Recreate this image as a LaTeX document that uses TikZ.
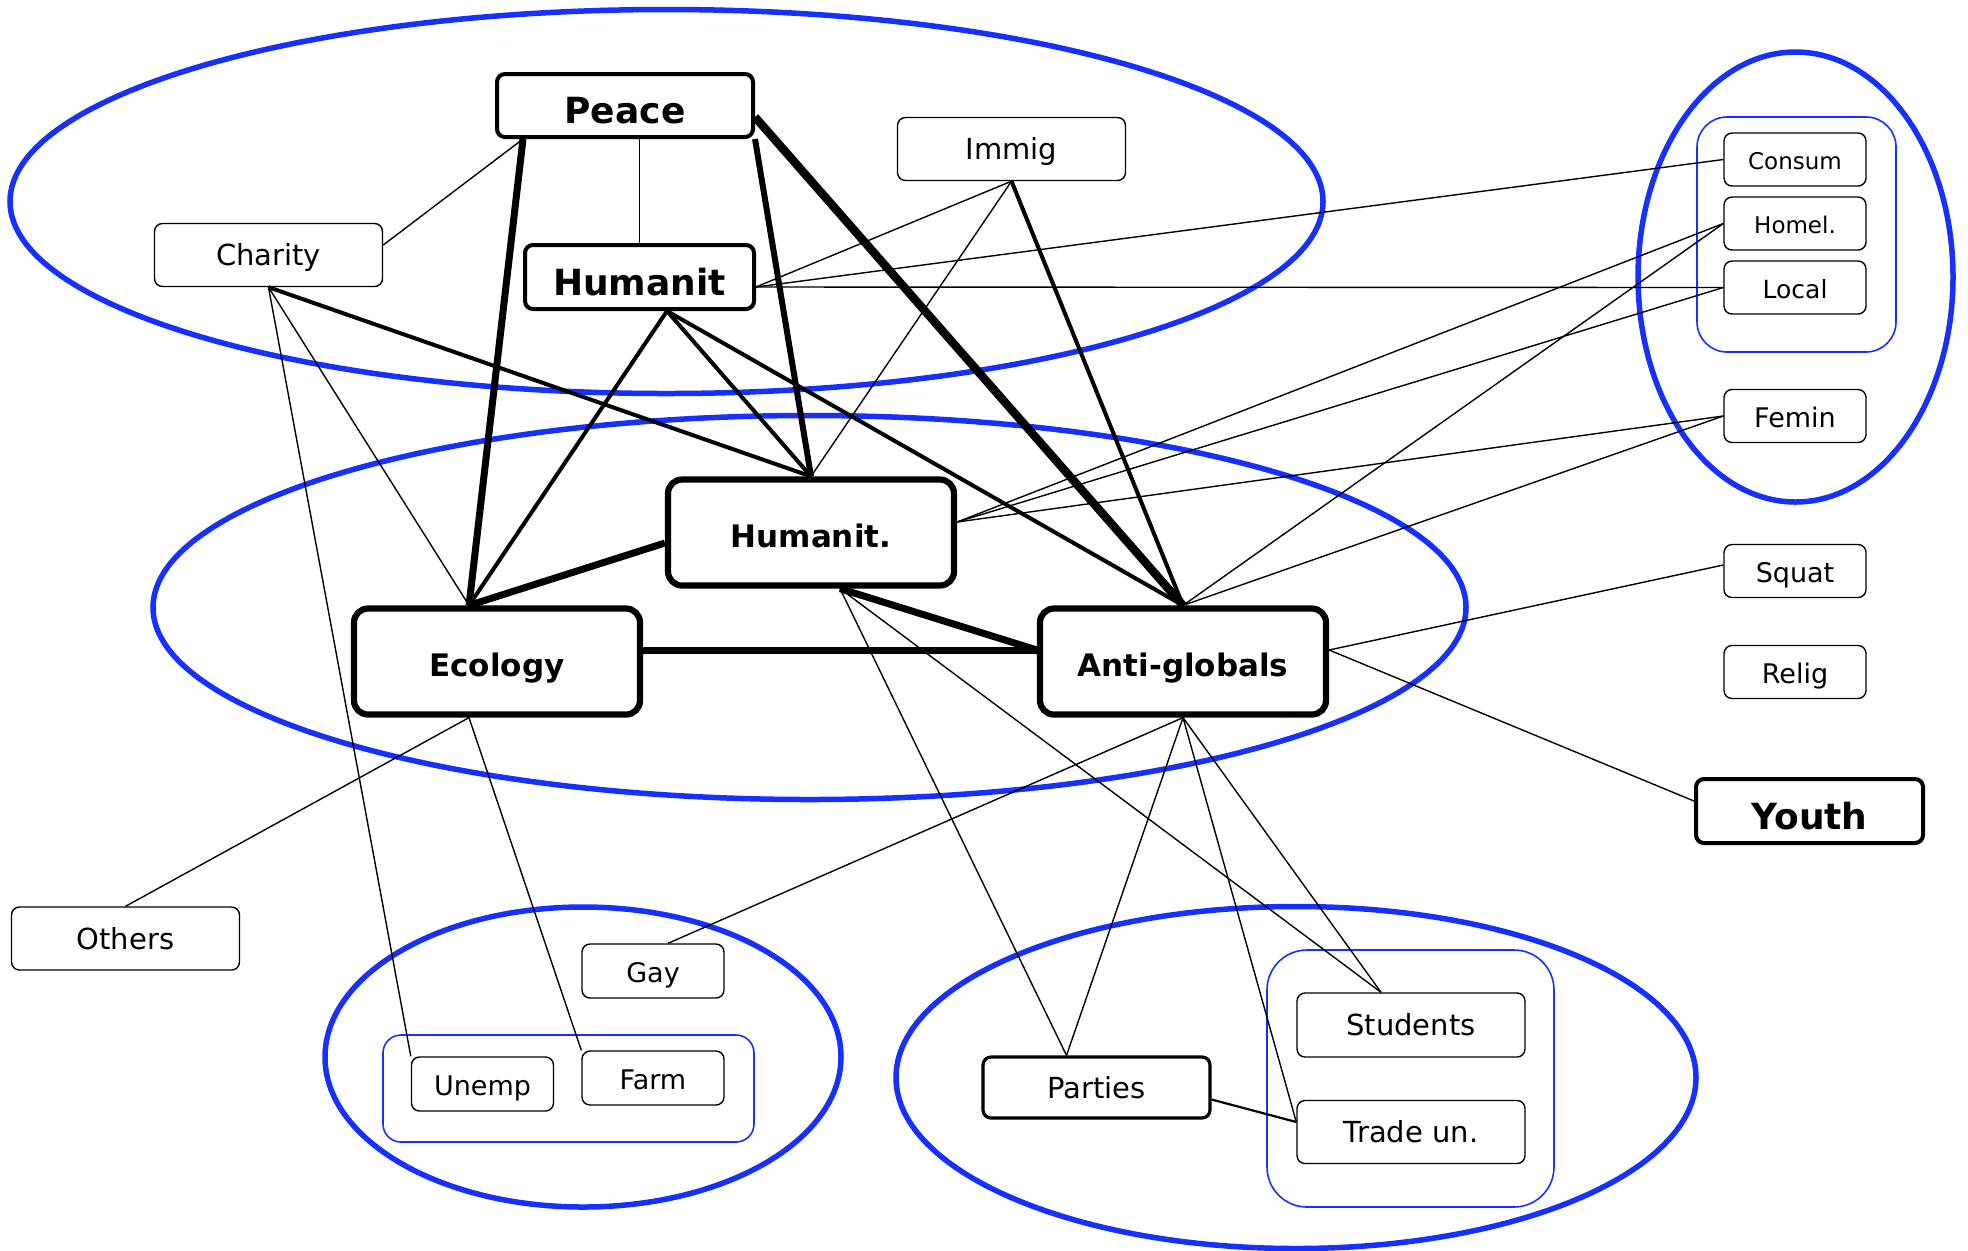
\documentclass[tikz,border=0pt]{standalone}
\usepackage{fontspec}
\setmainfont{DejaVu Sans}
\definecolor{groupblue}{RGB}{22,48,255}

\begin{document}
\begin{tikzpicture}[x=0.5pt, y=-0.5pt,
  every node/.style = {shape=rectangle, rounded corners=4pt,
    draw, fill=white, align=center, inner sep=0pt, line width=0.7pt,
    text depth=0pt},
  plain/.style = {minimum width=114pt, minimum height=31.5pt,
    font=\fontsize{14.5}{16}\selectfont, text height=10.6pt},
  small/.style = {minimum width=71pt, minimum height=26.5pt,
    font=\fontsize{13.5}{15}\selectfont, text height=11.9pt},
  major/.style = {line width=2pt, minimum width=114.5pt, minimum height=32pt,
    font=\fontsize{18}{20}\selectfont\bfseries, text height=18pt},
  hub/.style = {line width=3.1pt, rounded corners=7pt,
    minimum width=143pt, minimum height=53pt,
    font=\fontsize{15.5}{17}\selectfont\bfseries, text height=14.7pt},
  group/.style = {draw=groupblue, line width=2.75pt},
  subgroup/.style = {draw=groupblue, line width=0.8pt, rounded corners=15pt},
  tie/.style = {line width=0.7pt},
  tiemid/.style = {line width=2pt},
  tieheavy/.style = {line width=3.5pt},
  tiemax/.style = {line width=4.2pt}]

  \useasboundingbox (0,0) rectangle (1968,1250);

  % clusters
  \draw[group] (666.5,201.5) ellipse [x radius=328.25pt, y radius=96pt];
  \draw[group] (809.5,607.5) ellipse [x radius=328.25pt, y radius=96pt];
  \draw[group] (1795.5,277) ellipse [x radius=78.75pt, y radius=112.5pt];
  \draw[group] (583,1057) ellipse [x radius=129pt, y radius=75pt];
  \draw[group] (1296,1077.5) ellipse [x radius=200pt, y radius=85.5pt];
  \draw[subgroup] (1697,117) rectangle (1896,352);
  \draw[subgroup, rounded corners=9pt] (383,1035) rectangle (754,1142);
  \draw[subgroup, rounded corners=20pt] (1267,950) rectangle (1554,1207);

  \node[major, minimum width=128pt, minimum height=31.5pt] (peace) at (625,105.5) {Peace};
  \node[major] (humtop) at (639.5,277) {Humanit};
  \node[plain] (charity) at (268.5,255) {Charity};
  \node[plain] (immig) at (1011.5,149) {Immig};
  \node[small, font=\fontsize{11.5}{13}\selectfont, text height=10.4pt] (consum) at (1795,159.5) {Consum};
  \node[small, font=\fontsize{11.5}{13}\selectfont, text height=10.4pt] (homel) at (1795,223.5) {Homel.};
  \node[small, font=\fontsize{12.5}{14}\selectfont, text height=11.1pt] (local) at (1795,287.5) {Local};
  \node[small] (femin) at (1795,416) {Femin};
  \node[small] (squat) at (1795,571) {Squat};
  \node[small] (relig) at (1795,672) {Relig};
  \node[major, minimum width=113.5pt] (youth) at (1809.5,811) {Youth};
  \node[hub] (hummid) at (811,532.5) {Humanit.};
  \node[hub] (ecology) at (497,661.5) {Ecology};
  \node[hub] (anti) at (1183,661.5) {Anti-globals};
  \node[plain] (others) at (125.5,938.5) {Others};
  \node[small, minimum height=27pt] (gay) at (653,971) {Gay};
  \node[small, minimum height=27pt] (unemp) at (482.5,1084) {Unemp};
  \node[small, minimum height=27pt] (farm) at (653,1078) {Farm};
  \node[plain, line width=1.6pt, minimum width=113.5pt, minimum height=30.5pt] (parties) at (1096.5,1087.5) {Parties};
  \node[plain, minimum height=32pt] (students) at (1411,1025) {Students};
  \node[plain] (trade) at (1411,1132) {Trade un.};

  % thin ties
  \draw[tie] ([xshift=14pt]peace.south west) -- ([yshift=5pt]charity.east);
  \draw[tie] (peace.south -| humtop.north) -- (humtop.north);
  \draw[tie] ([yshift=-5pt]humtop.east) -- (immig.south);
  \draw[tie] ([yshift=-5pt]humtop.east) -- (consum.west);
  \draw[tie] ([yshift=-5pt]humtop.east) -- (local.west);
  \draw[tie] (charity.south) -- ([xshift=-14pt]ecology.north);
  \draw[tie] (charity.south) -- (unemp.north west);
  \draw[tie] (immig.south) -- (hummid.north);
  \draw[tie] ([yshift=5.25pt]hummid.east) -- (homel.west);
  \draw[tie] ([yshift=5.25pt]hummid.east) -- (local.west);
  \draw[tie] ([yshift=5.25pt]hummid.east) -- (femin.west);
  \draw[tie] ([xshift=14.5pt]hummid.south) -- ([xshift=-15pt]parties.north);
  \draw[tie] ([xshift=14.5pt]hummid.south) -- ([xshift=-15pt]students.north);
  \draw[tie] ([xshift=-14pt]ecology.south) -- (others.north);
  \draw[tie] ([xshift=-14pt]ecology.south) -- (farm.north west);
  \draw[tie] (anti.north) -- (homel.west);
  \draw[tie] (anti.north) -- (femin.west);
  \draw[tie] ([yshift=5.75pt]anti.east) -- ([yshift=3pt]squat.west);
  \draw[tie] ([yshift=5.75pt]anti.east) -- ([yshift=5pt]youth.west);
  \draw[tie] (anti.south) -- ([xshift=7.5pt]gay.north);
  \draw[tie] (anti.south) -- ([xshift=-15pt]parties.north);
  \draw[tie] (anti.south) -- ([xshift=-15pt]students.north);
  \draw[tie] (anti.south) -- ([yshift=5pt]trade.west);
  \draw[tie, line width=1.1pt] ([yshift=-6pt]parties.east) -- ([yshift=5pt]trade.west);

  % strong ties
  \draw[tiemid] (charity.south) -- (hummid.north);
  \draw[tiemid] ([xshift=13.75pt]humtop.south) -- ([xshift=-14pt]ecology.north);
  \draw[tiemid] ([xshift=13.75pt]humtop.south) -- (hummid.north);
  \draw[tiemid] ([xshift=13.75pt]humtop.south) -- (anti.north);
  \draw[tiemid] (immig.south) -- (anti.north);
  \draw[tieheavy] ([xshift=14pt]peace.south west) -- ([xshift=-14pt]ecology.north);
  \draw[tieheavy, line width=3pt] (peace.south east) -- (hummid.north);
  \draw[tiemax] ([yshift=-5.75pt]peace.east) -- (anti.north);
  \draw[tieheavy] ([yshift=-5.25pt]hummid.west) -- ([xshift=-14pt]ecology.north);
  \draw[tieheavy] ([xshift=14.5pt]hummid.south) -- ([yshift=5.75pt]anti.west);
  \draw[tieheavy] ([yshift=5.75pt]ecology.east) -- ([yshift=5.75pt]anti.west);
\end{tikzpicture}
\end{document}
